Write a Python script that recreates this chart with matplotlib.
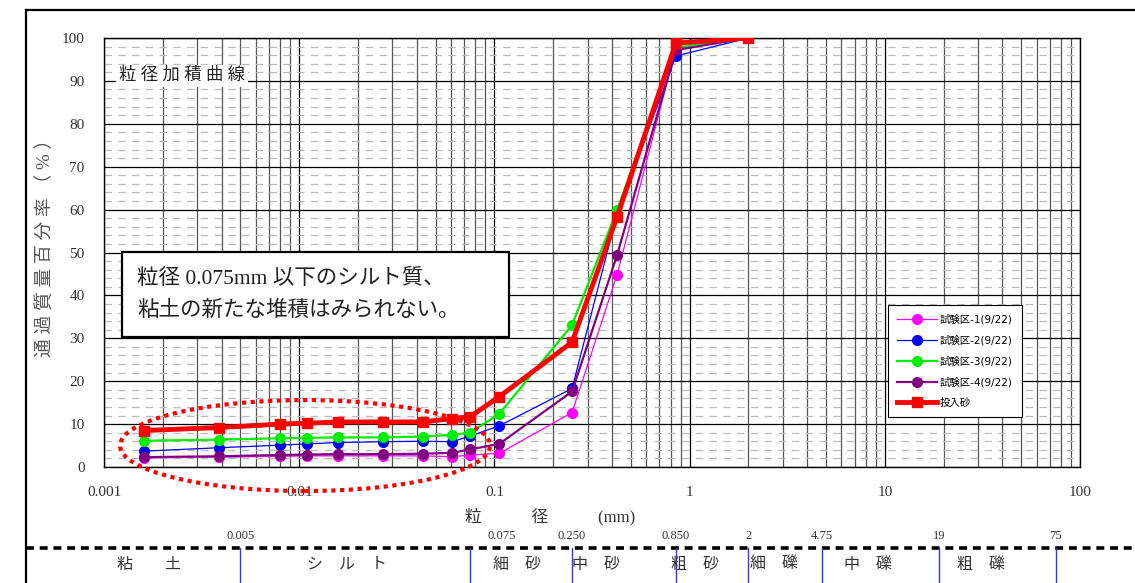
import matplotlib
matplotlib.use("Agg")
import matplotlib.pyplot as plt
from matplotlib.patches import Ellipse, Rectangle
from matplotlib.ticker import FixedLocator, FixedFormatter, MultipleLocator
from matplotlib.transforms import blended_transform_factory
import numpy as np

# Grain size (mm) and percent passing for each sample
grain_mm = [0.0016, 0.0039, 0.008, 0.011, 0.0158, 0.027, 0.043, 0.061, 0.075, 0.106, 0.25, 0.425, 0.85, 2.0]
plot_1 = [2.1, 2.3, 2.5, 2.6, 2.6, 2.6, 2.6, 2.4, 2.8, 3.2, 12.7, 44.8, 97.5, 100]
plot_2 = [3.7, 4.5, 5.1, 5.4, 5.7, 5.9, 6.0, 5.9, 7.2, 9.6, 18.3, 59.0, 95.8, 100]
plot_3 = [6.1, 6.4, 6.7, 6.8, 6.9, 6.9, 7.1, 7.5, 8.0, 12.4, 33.1, 59.9, 97.8, 100]
plot_4 = [2.3, 2.5, 2.8, 2.9, 3.0, 3.0, 3.1, 3.3, 4.1, 5.4, 17.6, 49.4, 97.2, 100]
sand = [8.5, 9.2, 10.0, 10.2, 10.5, 10.5, 10.5, 11.3, 11.7, 16.4, 29.1, 58.3, 98.8, 100]

series_labels = ["試験区-1(9/22)", "試験区-2(9/22)", "試験区-3(9/22)", "試験区-4(9/22)", "投入砂"]
x_ticks = [0.001, 0.01, 0.1, 1, 10, 100]
x_tick_labels = ["0.001", "0.01", "0.1", "1", "10", "100"]
y_ticks = [0, 10, 20, 30, 40, 50, 60, 70, 80, 90, 100]

# Soil classification band below the chart
class_bounds = [0.005, 0.075, 0.25, 0.85, 2, 4.75, 19, 75]
class_bound_labels = ["0.005", "0.075", "0.250", "0.850", "2", "4.75", "19", "75"]
class_names = ["粘　　土", "シ　ル　ト", "細　砂", "中　砂", "粗　砂", "細　礫", "中　礫", "粗　礫"]
class_name_x = [0.0017, 0.0175, 0.13, 0.33, 1.07, 2.7, 8.2, 31]

JP = ["Liberation Serif", "Noto Sans CJK JP"]
plt.rcParams["font.family"] = JP

fig = plt.figure(figsize=(11.35, 5.83), dpi=100)
ax = fig.add_axes([104 / 1135, 1 - 467 / 583, 976 / 1135, 429 / 583])

ax.set_xscale("log")
ax.set_xlim(0.001, 100)
ax.set_ylim(0, 100)

# Grid: decades + 2..9 verticals, 10% solid and 2% dashed horizontals
ax.xaxis.set_major_locator(FixedLocator(x_ticks))
ax.xaxis.set_major_formatter(FixedFormatter(x_tick_labels))
minor_x = [m * d for d in [0.001, 0.01, 0.1, 1, 10] for m in range(2, 10)]
ax.xaxis.set_minor_locator(FixedLocator(minor_x))
ax.yaxis.set_major_locator(FixedLocator(y_ticks))
ax.yaxis.set_minor_locator(MultipleLocator(2))
ax.grid(which="major", axis="both", color="black", lw=0.9)
ax.grid(which="minor", axis="x", color="#555555", lw=0.9)
ax.grid(which="minor", axis="y", color="#bbbbbb", lw=0.9, dashes=(6, 5))
ax.set_axisbelow(True)
ax.tick_params(which="both", length=0)
ax.tick_params(axis="x", pad=14, labelsize=11, labelcolor="#333333")
ax.tick_params(axis="y", pad=14, labelsize=11, labelcolor="#333333")
for s in ax.spines.values():
    s.set_color("black")
    s.set_linewidth(1.0)

ax.plot(grain_mm, plot_1, color="#ff00ff", lw=0.9, marker="o", ms=7, label=series_labels[0], zorder=3)
ax.plot(grain_mm, plot_2, color="#0000ff", lw=0.9, marker="o", ms=7, label=series_labels[1], zorder=3)
ax.plot(grain_mm, plot_3, color="#00ee00", lw=1.6, marker="o", ms=7, label=series_labels[2], zorder=3)
ax.plot(grain_mm, plot_4, color="#800080", lw=1.6, marker="o", ms=7, label=series_labels[3], zorder=3)
ax.plot(grain_mm, sand, color="#ff0000", lw=3.5, marker="s", ms=7.5, label=series_labels[4], zorder=4)

leg = ax.legend(loc="upper left", bbox_to_anchor=(0.803, 0.378), borderaxespad=0,
                handlelength=3.8, labelspacing=1.0, fancybox=False,
                framealpha=1, edgecolor="black", borderpad=0.9, handletextpad=0.3,
                prop={"family": ["DejaVu Sans", "Noto Sans CJK JP"], "size": 7.5})
leg.get_frame().set_linewidth(0.8)

# Chart caption inside plot
ax.text(0.0155, 0.912, "粒 径 加 積 曲 線", transform=ax.transAxes, fontsize=12.5,
        color="#222222", va="center", ha="left",
        bbox=dict(facecolor="white", edgecolor="none", pad=2))

# Note box
ax.add_patch(Rectangle((0.0184, 0.303), 0.3965, 0.198, transform=ax.transAxes,
                       facecolor="white", edgecolor="black", lw=1.6, zorder=5))
ax.text(0.034, 0.402, "粒径 0.075mm 以下のシルト質、\n粘土の新たな堆積はみられない。",
        transform=ax.transAxes, fontsize=15.5, va="center", ha="left",
        linespacing=1.75, color="#222222", zorder=6)

# Dotted ellipse marking the fine fraction
ax.add_patch(Ellipse((0.206, 0.050), 0.379, 0.212, transform=ax.transAxes, fill=False,
                     edgecolor="#ff0000", lw=3, linestyle=(0, (1, 1.1)), clip_on=False, zorder=6))

# Axis labels
fig.text(45 / 1135, 1 - 243 / 583, "通 過 質 量 百 分 率 （ % ）", rotation=90,
         ha="center", va="center", fontsize=13.5, color="#555555")
fig.text(550 / 1135, 1 - 517 / 583, "粒　　　径　　　(mm)", ha="center", va="center",
         fontsize=12, color="#333333")

# Classification band
band = blended_transform_factory(ax.transData, fig.transFigure)
fig.add_artist(plt.Line2D([26 / 1135, 1], [1 - 548 / 583] * 2, color="black", lw=2.6,
                          dashes=(2.2, 1.6), transform=fig.transFigure))
for b, lab in zip(class_bounds, class_bound_labels):
    fig.add_artist(plt.Line2D([b, b], [0, 1 - 548 / 583], color="#3333ff", lw=1.0,
                              transform=band, clip_on=False))
    xoff = 1.45 if lab == "0.075" else 1.0
    fig.text(b * xoff, 1 - 536 / 583, lab, transform=band, ha="center", va="center",
             fontsize=9, color="#333333")
for xn, name in zip(class_name_x, class_names):
    fig.text(xn, 1 - 565 / 583, name, transform=band, ha="center", va="center",
             fontsize=11.5, color="#333333")

# Outer frame of the source page
fig.add_artist(plt.Line2D([26 / 1135, 26 / 1135], [0, 1 - 10 / 583], color="black", lw=1.6,
                          transform=fig.transFigure))
fig.add_artist(plt.Line2D([26 / 1135, 1], [1 - 10 / 583] * 2, color="black", lw=1.6,
                          transform=fig.transFigure))

fig.savefig("out.png", dpi=100)
